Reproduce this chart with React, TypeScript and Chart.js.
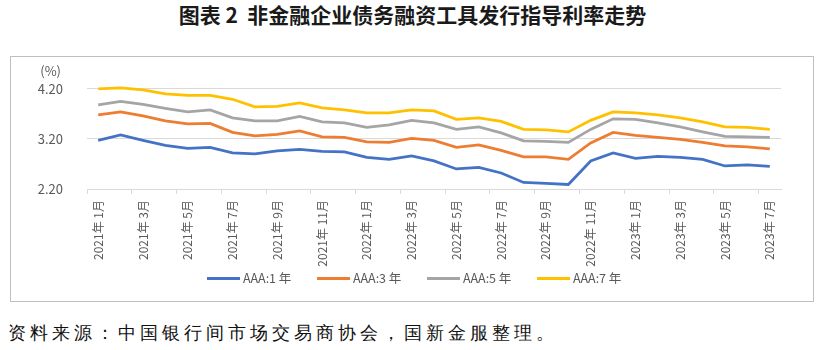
import React, { useEffect, useRef } from 'react';
import { Chart, registerables } from 'chart.js';

Chart.register(...registerables);

const monthLabels = [
  '2021年 1月', '2021年 2月', '2021年 3月', '2021年 4月', '2021年 5月', '2021年 6月',
  '2021年 7月', '2021年 8月', '2021年 9月', '2021年 10月', '2021年 11月', '2021年 12月',
  '2022年 1月', '2022年 2月', '2022年 3月', '2022年 4月', '2022年 5月', '2022年 6月',
  '2022年 7月', '2022年 8月', '2022年 9月', '2022年 10月', '2022年 11月', '2022年 12月',
  '2023年 1月', '2023年 2月', '2023年 3月', '2023年 4月', '2023年 5月', '2023年 6月',
  '2023年 7月',
];

const aaa1y = [3.17, 3.28, 3.17, 3.07, 3.01, 3.03, 2.92, 2.90, 2.96, 2.99, 2.95, 2.94, 2.83, 2.79, 2.86, 2.76, 2.60, 2.63, 2.52, 2.33, 2.31, 2.29, 2.76, 2.92, 2.81, 2.85, 2.83, 2.79, 2.66, 2.68, 2.65];
const aaa3y = [3.68, 3.74, 3.66, 3.56, 3.50, 3.51, 3.33, 3.26, 3.29, 3.36, 3.24, 3.23, 3.14, 3.13, 3.21, 3.17, 3.03, 3.08, 2.97, 2.84, 2.84, 2.79, 3.12, 3.33, 3.27, 3.23, 3.19, 3.13, 3.06, 3.04, 3.00];
const aaa5y = [3.88, 3.95, 3.89, 3.81, 3.74, 3.78, 3.62, 3.56, 3.56, 3.65, 3.54, 3.52, 3.43, 3.48, 3.57, 3.52, 3.39, 3.44, 3.32, 3.16, 3.15, 3.13, 3.39, 3.60, 3.59, 3.52, 3.44, 3.34, 3.25, 3.24, 3.23];
const aaa7y = [4.20, 4.22, 4.18, 4.10, 4.07, 4.07, 3.99, 3.84, 3.85, 3.92, 3.82, 3.78, 3.72, 3.72, 3.78, 3.76, 3.59, 3.62, 3.55, 3.39, 3.38, 3.34, 3.57, 3.74, 3.72, 3.68, 3.62, 3.54, 3.44, 3.43, 3.39];

const seriesNames = ['AAA:1 年', 'AAA:3 年', 'AAA:5 年', 'AAA:7 年'];
const seriesColors = ['#4472C4', '#ED7D31', '#A5A5A5', '#FFC000'];
const yTicks = [2.2, 3.2, 4.2];

const titleText = '图表 2  非金融企业债务融资工具发行指导利率走势';
const unitText = '(%)';
const sourceText = '资料来源：中国银行间市场交易商协会，国新金服整理。';

const FONT = '"Noto Sans CJK SC", "Noto Sans", sans-serif';

export default function App() {
  const canvasRef = useRef<HTMLCanvasElement | null>(null);

  useEffect(() => {
    document.body.style.margin = '0';
    const canvas = canvasRef.current;
    if (!canvas) return;

    const unitPlugin = {
      id: 'unitLabel',
      afterDraw(chart: any) {
        const { ctx, chartArea } = chart;
        ctx.save();
        ctx.font = `13px ${FONT}`;
        ctx.fillStyle = '#595959';
        ctx.textAlign = 'right';
        ctx.textBaseline = 'middle';
        ctx.fillText(unitText, chartArea.left - 26, chartArea.top - 18);
        ctx.restore();
      },
    };

    const seriesData = [aaa1y, aaa3y, aaa5y, aaa7y];

    const chart = new Chart(canvas, {
      type: 'line',
      data: {
        labels: monthLabels,
        datasets: seriesData.map((d, i) => ({
          label: seriesNames[i],
          data: d,
          borderColor: seriesColors[i],
          backgroundColor: seriesColors[i],
          borderWidth: 2.75,
          pointRadius: 0,
          tension: 0,
          fill: false,
          clip: false,
        })),
      },
      options: {
        responsive: false,
        animation: false,
        layout: { padding: { left: 0, right: 32, top: 31, bottom: 24 } },
        plugins: {
          tooltip: { enabled: false },
          legend: { display: false },
        },
        scales: {
          x: {
            type: 'category',
            offset: true,
            afterFit: (s: any) => {
              s.height = 88;
            },
            grid: {
              offset: true,
              drawOnChartArea: false,
              tickLength: 5,
              tickWidth: 1,
              tickColor: (ctx: any) =>
                typeof ctx.index === 'number' && ctx.index % 2 === 0 ? '#d9d9d9' : 'rgba(0,0,0,0)',
            },
            border: { color: '#d9d9d9', width: 1 },
            ticks: {
              autoSkip: false,
              maxRotation: 90,
              minRotation: 90,
              padding: 6,
              color: '#595959',
              font: { size: 12, family: FONT },
              callback: (_v: any, i: number) => (i % 2 === 0 ? monthLabels[i] : ''),
            },
          },
          y: {
            min: 2.2,
            max: 4.2,
            afterBuildTicks: (s: any) => {
              s.ticks = yTicks.map((v) => ({ value: v }));
            },
            afterFit: (s: any) => {
              s.width = 76;
            },
            grid: { color: '#d9d9d9', drawTicks: false, lineWidth: 1 },
            border: { display: false },
            ticks: {
              padding: 24,
              color: '#595959',
              font: { size: 13, family: FONT },
              callback: (v: any) => Number(v).toFixed(2),
            },
          },
        },
      },
      plugins: [unitPlugin],
    });

    return () => chart.destroy();
  }, []);

  return (
    <div style={{ position: 'relative', width: 825, height: 350, background: '#fff', overflow: 'hidden' }}>
      <div
        style={{
          position: 'absolute',
          top: 0,
          left: 0,
          width: 825,
          textAlign: 'center',
          fontFamily: FONT,
          fontWeight: 700,
          fontSize: 21,
          lineHeight: '28px',
          color: '#1a1a1a',
          whiteSpace: 'pre',
        }}
      >
        {titleText}
      </div>
      <div
        style={{
          position: 'absolute',
          left: 10,
          top: 56,
          width: 804,
          height: 246,
          boxSizing: 'border-box',
          border: '1px solid #bfbfbf',
        }}
      >
        <canvas ref={canvasRef} width={802} height={244} style={{ display: 'block' }} />
      </div>
      <div
        style={{
          position: 'absolute',
          left: 207,
          top: 269,
          display: 'flex',
          alignItems: 'center',
          fontFamily: FONT,
          fontSize: 12.5,
          lineHeight: '18px',
          color: '#595959',
          whiteSpace: 'nowrap',
        }}
      >
        {seriesNames.map((name, i) => (
          <div key={name} style={{ display: 'flex', alignItems: 'center', width: i < seriesNames.length - 1 ? 110 : 'auto' }}>
            <span style={{ display: 'inline-block', width: 33, height: 3, background: seriesColors[i], marginRight: 3 }} />
            <span>{name}</span>
          </div>
        ))}
      </div>
      <div
        style={{
          position: 'absolute',
          left: 8,
          top: 320,
          fontFamily: 'serif',
          fontSize: 18,
          letterSpacing: 4,
          lineHeight: '26px',
          color: '#111',
          whiteSpace: 'nowrap',
        }}
      >
        {sourceText}
      </div>
    </div>
  );
}
